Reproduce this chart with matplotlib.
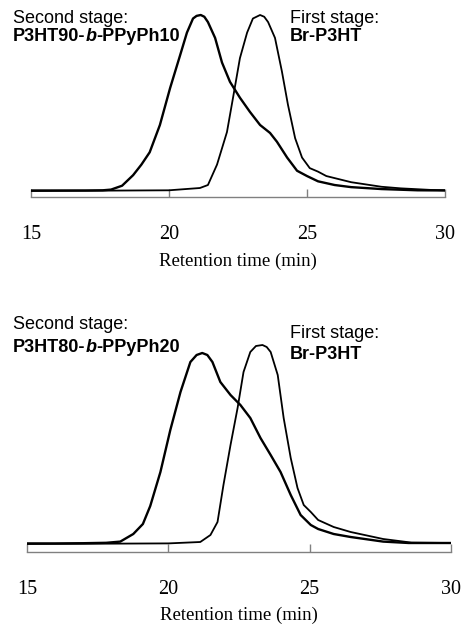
import matplotlib
matplotlib.use("Agg")
import matplotlib.pyplot as plt

# ---- data (retention time in min, normalised detector response) ----
t_top_second = [15.0, 16.0, 17.0, 17.6, 17.9, 18.3, 18.7, 19.0, 19.3, 19.67, 20.04, 20.4,
                20.65, 20.87, 21.0, 21.15, 21.28, 21.41, 21.67, 21.92, 22.21, 22.57, 22.93,
                23.3, 23.66, 23.91, 24.28, 24.64, 25.0, 25.4, 26.0, 26.6, 27.7, 29.0, 30.0]
h_top_second = [0.003, 0.003, 0.003, 0.004, 0.008, 0.03, 0.09, 0.15, 0.22, 0.375, 0.585, 0.77,
                0.90, 0.98, 0.995, 1.0, 0.99, 0.96, 0.87, 0.73, 0.62, 0.53, 0.45,
                0.375, 0.33, 0.28, 0.19, 0.115, 0.085, 0.055, 0.034, 0.022, 0.011, 0.004, 0.003]

t_top_first = [15.0, 20.0, 21.12, 21.41, 21.74, 22.1, 22.32, 22.57, 22.83, 23.04, 23.3, 23.45,
               23.59, 23.84, 24.09, 24.31, 24.57, 24.82, 25.1, 25.4, 25.7, 26.6, 27.7, 28.4,
               29.5, 30.0]
h_top_first = [0.0, 0.004, 0.017, 0.034, 0.15, 0.335, 0.53, 0.755, 0.90, 0.98, 1.0, 0.99,
               0.96, 0.87, 0.68, 0.49, 0.30, 0.19, 0.13, 0.11, 0.085, 0.05, 0.024, 0.015,
               0.006, 0.004]

t_bot_second = [15.0, 16.0, 17.0, 17.8, 18.3, 18.76, 19.1, 19.36, 19.72, 20.07, 20.43, 20.78,
                21.0, 21.2, 21.38, 21.56, 21.84, 22.2, 22.55, 22.9, 23.26, 23.62, 23.97,
                24.33, 24.68, 25.04, 25.3, 25.85, 26.45, 27.6, 28.5, 30.0]
h_bot_second = [0.003, 0.003, 0.004, 0.006, 0.012, 0.05, 0.10, 0.19, 0.36, 0.57, 0.76, 0.91,
                0.945, 0.955, 0.945, 0.91, 0.81, 0.745, 0.695, 0.63, 0.53, 0.445, 0.36,
                0.245, 0.145, 0.095, 0.075, 0.05, 0.035, 0.012, 0.005, 0.005]

t_bot_first = [15.0, 20.0, 21.13, 21.49, 21.74, 21.95, 22.2, 22.45, 22.66, 22.9, 23.1, 23.33,
               23.48, 23.62, 23.87, 24.08, 24.33, 24.57, 24.79, 25.04, 25.3, 25.85, 26.45,
               27.6, 28.6, 30.0]
h_bot_first = [0.0, 0.003, 0.01, 0.045, 0.11, 0.295, 0.495, 0.68, 0.86, 0.96, 0.99, 0.995,
               0.985, 0.96, 0.845, 0.63, 0.43, 0.28, 0.195, 0.16, 0.12, 0.085, 0.06,
               0.025, 0.007, 0.005]

x_ticks = [15, 20, 25, 30]
x_label = "Retention time (min)"
second_label = "Second stage:"
first_label = "First stage:"
first_name = "Br-P3HT"
top_name = ("P3HT90-", "b", "-PPyPh10")
bot_name = ("P3HT80-", "b", "-PPyPh20")

W, H = 461, 633
fig = plt.figure(figsize=(W / 100, H / 100), dpi=100)

def px_axes(left, right, bottom, top):
    return fig.add_axes([left / W, 1 - bottom / H, (right - left) / W, (bottom - top) / H])

ax1 = px_axes(31, 445, 197, 10)
ax1.set_ylim(-6 / 176, (191 - 10) / 176)
ax2 = px_axes(27, 451, 552, 330)
ax2.set_ylim(-8 / 200, (544 - 330) / 200)

serif = "Liberation Serif"
sans = "Liberation Sans"

for ax, ts, hs, tf, hf, ly in [
    (ax1, t_top_second, h_top_second, t_top_first, h_top_first, -0.30),
    (ax2, t_bot_second, h_bot_second, t_bot_first, h_bot_first, -0.245),
]:
    ax.plot(tf, hf, color="black", lw=1.3, solid_joinstyle="round", solid_capstyle="round")
    ax.plot(ts, hs, color="black", lw=1.7, solid_joinstyle="round", solid_capstyle="round")
    ax.set_xlim(15, 30)
    for s in ["left", "right", "top"]:
        ax.spines[s].set_visible(False)
    ax.spines["bottom"].set_color("#808080")
    ax.spines["bottom"].set_linewidth(1.0)
    ax.set_yticks([])
    ax.set_xticks(x_ticks)
    ax.tick_params(axis="x", direction="in", length=5.5, width=1.0, color="#808080",
                   pad=20.5, labelsize=14.5)
    for lab in ax.get_xticklabels():
        lab.set_fontfamily(serif)
    ax.set_xlabel(x_label, fontfamily=serif, fontsize=13.5)
    ax.xaxis.set_label_coords(0.5, ly)
    ax.patch.set_visible(False)

fs = 13

def name_text(x, y, parts):
    t1 = fig.text(x / W, 1 - y / H, parts[0], fontfamily=sans, fontweight="bold",
                  fontsize=fs, va="top", ha="left")
    fig.canvas.draw()
    r = fig.canvas.get_renderer()
    bb = t1.get_window_extent(r)
    t2 = fig.text(bb.x1 / W, 1 - y / H, parts[1], fontfamily=sans, fontweight="bold",
                  fontstyle="italic", fontsize=fs, va="top", ha="left")
    fig.canvas.draw()
    bb2 = t2.get_window_extent(r)
    fig.text(bb2.x1 / W, 1 - y / H, parts[2], fontfamily=sans, fontweight="bold",
             fontsize=fs, va="top", ha="left")

# top panel annotations
fig.text(13 / W, 1 - 10 / H, second_label, fontfamily=sans, fontsize=fs, va="top")
name_text(13, 28, top_name)
fig.text(290 / W, 1 - 10 / H, first_label, fontfamily=sans, fontsize=fs, va="top")
fig.text(290 / W, 1 - 28 / H, first_name, fontfamily=sans, fontweight="bold", fontsize=fs, va="top")

# bottom panel annotations
fig.text(13 / W, 1 - 316 / H, second_label, fontfamily=sans, fontsize=fs, va="top")
name_text(13, 339, bot_name)
fig.text(290 / W, 1 - 325 / H, first_label, fontfamily=sans, fontsize=fs, va="top")
fig.text(290 / W, 1 - 346 / H, first_name, fontfamily=sans, fontweight="bold", fontsize=fs, va="top")

fig.savefig("out.png", dpi=100)
